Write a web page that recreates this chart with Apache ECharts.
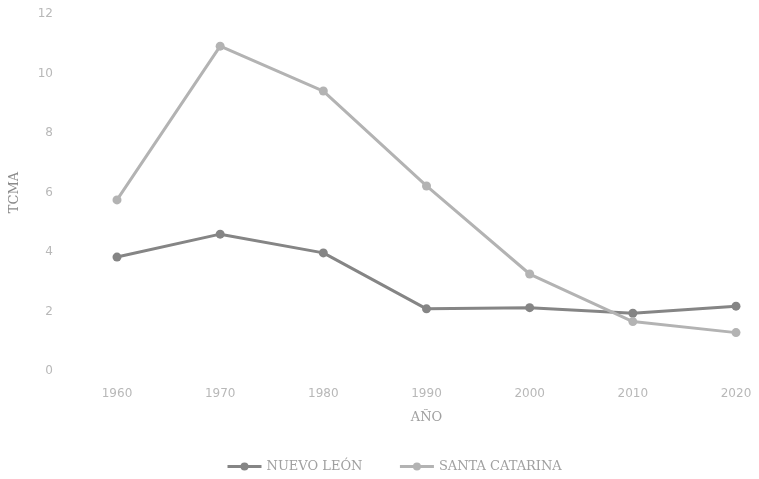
<!DOCTYPE html>
<html>
<head>
<meta charset="utf-8">
<script src="https://cdn.jsdelivr.net/npm/echarts@6/dist/echarts.min.js"></script>
<style>
  html, body { margin: 0; padding: 0; background: #fff; }
  #chart { width: 759px; height: 479px; }
</style>
</head>
<body>
<div id="chart"></div>
<script>
// Tasa de crecimiento media anual por década
const years = ['1960', '1970', '1980', '1990', '2000', '2010', '2020'];
const nuevoLeon = [3.83, 4.60, 3.97, 2.09, 2.13, 1.94, 2.18];
const santaCatarina = [5.75, 10.92, 9.41, 6.22, 3.26, 1.66, 1.29];
const yTicks = [0, 2, 4, 6, 8, 10, 12];

const chart = echarts.init(document.getElementById('chart'));
const tickFont = { color: '#b8b8b8', fontSize: 12, fontFamily: 'DejaVu Sans' };
const serif = 'DejaVu Serif';

chart.setOption({
  animation: false,
  backgroundColor: '#ffffff',
  grid: { left: 116, right: 23, top: 14, bottom: 108 },
  legend: {
    top: 455,
    left: 221,
    itemGap: 36,
    itemWidth: 34,
    itemHeight: 10,
    lineStyle: { width: 3 },
    textStyle: { color: '#a0a0a0', fontSize: 13, fontFamily: serif },
    data: ['NUEVO LEÓN', 'SANTA CATARINA']
  },
  xAxis: {
    type: 'category',
    data: years,
    boundaryGap: false,
    name: 'AÑO',
    nameLocation: 'middle',
    nameGap: 40,
    nameTextStyle: { color: '#a0a0a0', fontSize: 13, fontFamily: serif },
    axisLine: { show: false },
    axisTick: { show: false },
    axisLabel: Object.assign({ margin: 17 }, tickFont),
    splitLine: { show: false }
  },
  yAxis: {
    type: 'value',
    min: yTicks[0],
    max: yTicks[yTicks.length - 1],
    interval: 2,
    name: 'TCMA',
    nameLocation: 'middle',
    nameGap: 96,
    nameTextStyle: { color: '#8a8a8a', fontSize: 13, fontFamily: serif },
    axisLine: { show: false },
    axisTick: { show: false },
    axisLabel: Object.assign({ margin: 64 }, tickFont),
    splitLine: { show: false }
  },
  series: [
    {
      name: 'NUEVO LEÓN',
      type: 'line',
      data: nuevoLeon,
      symbol: 'circle',
      symbolSize: 9,
      lineStyle: { width: 3, color: '#858585' },
      itemStyle: { color: '#858585' }
    },
    {
      name: 'SANTA CATARINA',
      type: 'line',
      data: santaCatarina,
      symbol: 'circle',
      symbolSize: 9,
      lineStyle: { width: 3, color: '#b3b3b3' },
      itemStyle: { color: '#b3b3b3' }
    }
  ]
});
</script>
</body>
</html>
